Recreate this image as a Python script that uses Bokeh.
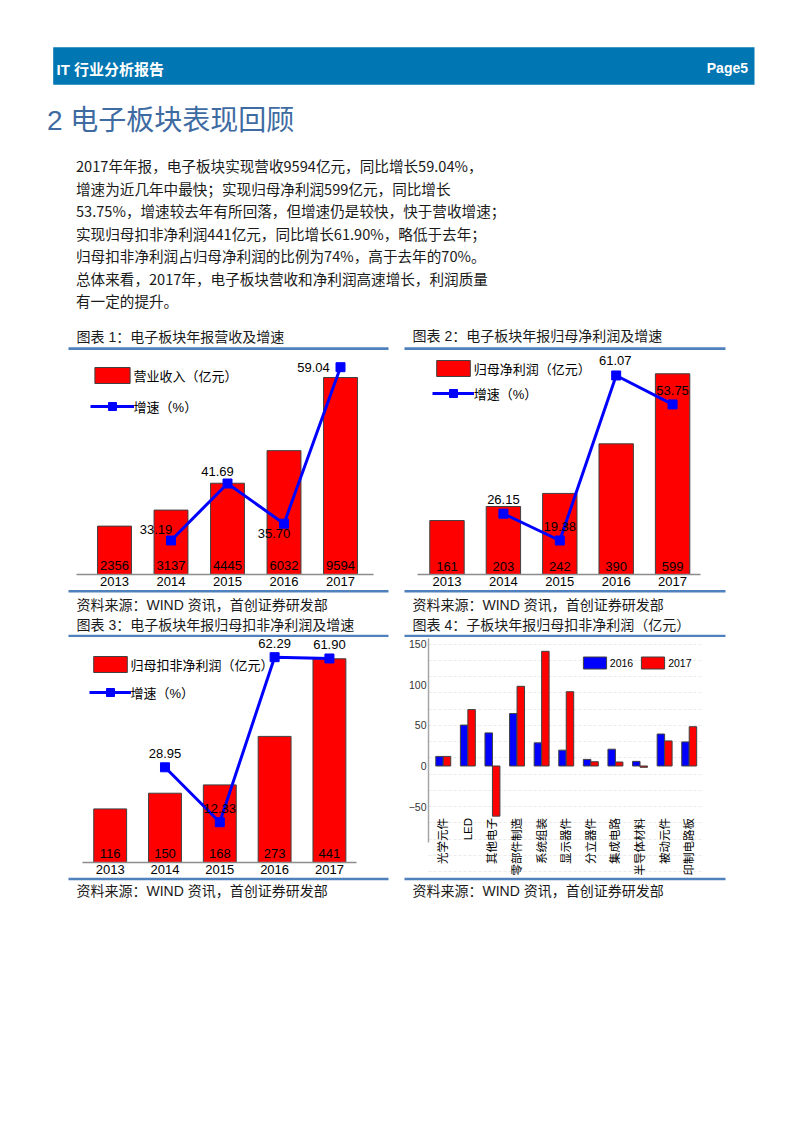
import math
from bokeh.plotting import figure
from bokeh.models import Range1d, FixedTicker, ColumnDataSource, Legend, LegendItem, Spacer
from bokeh.layouts import column, row
from bokeh.core.properties import value
from bokeh.transform import dodge
from bokeh.embed import file_html
from bokeh.resources import INLINE

# ---------------- data ----------------
years = ["2013", "2014", "2015", "2016", "2017"]
revenue = [2356, 3137, 4445, 6032, 9594]
revenue_growth = [33.19, 41.69, 35.70, 59.04]          # 2014-2017
net_profit = [161, 203, 242, 390, 599]
net_profit_growth = [26.15, 19.38, 61.07, 53.75]       # 2014-2017
core_profit = [116, 150, 168, 273, 441]
core_profit_growth = [28.95, 12.33, 62.29, 61.90]      # 2014-2017

sectors = ["光学元件", "LED", "其他电子", "零部件制造", "系统组装", "显示器件",
           "分立器件", "集成电路", "半导体材料", "被动元件", "印制电路板"]
sector_2016 = [11.8, 50.4, 40.8, 64.6, 28.5, 19.5, 8.1, 20.7, 5.7, 39.4, 29.7]
sector_2017 = [11.8, 69.5, -61.8, 98.2, 141.3, 91.5, 5.3, 4.9, -1.6, 30.9, 48.4]
sector_ticks = [-50, 0, 50, 100, 150]

paragraph = [
    "2017年年报，电子板块实现营收9594亿元，同比增长59.04%，",
    "增速为近几年中最快；实现归母净利润599亿元，同比增长",
    "53.75%，增速较去年有所回落，但增速仍是较快，快于营收增速；",
    "实现归母扣非净利润441亿元，同比增长61.90%，略低于去年；",
    "归母扣非净利润占归母净利润的比例为74%，高于去年的70%。",
    "总体来看，2017年，电子板块营收和净利润高速增长，利润质量",
    "有一定的提升。",
]
source_text = "资料来源：WIND 资讯，首创证券研发部"

# ---------------- styles ----------------
CJK = "Noto Sans CJK SC"
MIX = "Liberation Sans, Noto Sans CJK SC"
RED = "#FF0000"
BLUE = "#0000FF"
EDGE = "#404040"
RULE = "#4F81BD"
HEAD = "#0076B2"
TITLE = "#3E6BA2"
INK = "#1a1a1a"


def no_align(p):
    try:
        p.frame_align = False
    except Exception:
        pass


def strip(top, bottom):
    p = figure(width=777, height=bottom - top, x_range=Range1d(8, 785),
               y_range=Range1d(bottom, top), x_axis_type=None, y_axis_type=None,
               output_backend="svg", toolbar_location=None, min_border=0,
               outline_line_color=None)
    return p


def put(p, x, y, s, size, color=INK, font=MIX, align="left", style="normal"):
    p.text(x=[x], y=[y], text=[s], text_font=value(font), text_font_size=size,
           text_color=color, text_align=align, text_baseline="middle",
           text_font_style=style)


def rules(p, top, bottom):
    p.quad(left=[68, 404], right=[388, 725], top=[top, top], bottom=[bottom, bottom],
           fill_color=RULE, line_color=None)


# ---------------- strip A : header, title, paragraph ----------------
sa = strip(8, 350)
sa.quad(left=[52.7], right=[754], top=[46.7], bottom=[84.3], fill_color=HEAD, line_color=None)
put(sa, 56, 69.3, "IT 行业分析报告", "15px", color="white", style="bold")
put(sa, 747.5, 67, "Page5", "14px", color="white", align="right", style="bold")
put(sa, 46.5, 120, "2 电子板块表现回顾", "28px", color=TITLE)
for i, line in enumerate(paragraph):
    put(sa, 75.5, 165.3 + 22.53 * i, line, "14.6px", font=CJK)
put(sa, 76, 336, "图表 1：电子板块年报营收及增速", "14px")
put(sa, 412, 335, "图表 2：电子板块年报归母净利润及增速", "14px")
rules(sa, 346.8, 349.7)


# ---------------- combo charts ----------------
def combo(width, height, border_l, border_r, x_start, x_end, y_end, g_range,
          bars, growth, bar_name, bar_w, value_dy, label_offsets, legend_loc,
          glyph_w, leg_spacing, min_top=0):
    p = figure(width=width, height=height, x_range=Range1d(x_start, x_end),
               y_range=Range1d(0, y_end), y_axis_type=None,
               output_backend="svg", toolbar_location=None,
               min_border_left=border_l, min_border_right=border_r,
               min_border_top=min_top, min_border_bottom=15,
               outline_line_color=None)
    no_align(p)
    p.extra_y_ranges = {"g": Range1d(*g_range)}
    xs = list(range(len(years)))
    src = ColumnDataSource(dict(x=xs, v=bars, lab=[str(b) for b in bars]))
    br = p.vbar(x="x", top="v", width=bar_w, source=src, fill_color=RED,
                line_color=EDGE, line_width=1)
    p.text(x="x", y=0, text="lab", source=src, y_offset=value_dy,
           text_align="center", text_baseline="middle", text_font=value(MIX),
           text_font_size="13px", text_color="black")
    gsrc = ColumnDataSource(dict(x=xs[1:], g=growth,
                                 lab=[f"{v:.2f}" for v in growth],
                                 dx=[o[0] for o in label_offsets],
                                 dy=[o[1] for o in label_offsets]))
    lr = p.line(x="x", y="g", source=gsrc, y_range_name="g", line_color=BLUE, line_width=3)
    sr = p.scatter(x="x", y="g", source=gsrc, y_range_name="g", marker="square",
                   size=9, fill_color=BLUE, line_color=BLUE)
    p.text(x="x", y="g", text="lab", source=gsrc, y_range_name="g",
           x_offset="dx", y_offset="dy", text_align="center", text_baseline="middle",
           text_font=value(MIX), text_font_size="13px", text_color="black")
    ax = p.xaxis[0]
    ax.ticker = FixedTicker(ticks=xs)
    ax.major_label_overrides = {i: y for i, y in enumerate(years)}
    ax.major_tick_line_color = None
    ax.minor_tick_line_color = None
    ax.major_label_standoff = -4
    ax.axis_line_color = "#8c8c8c"
    ax.axis_line_width = 1.5
    ax.major_label_text_font = MIX
    ax.major_label_text_font_size = "13px"
    ax.major_label_text_color = "black"
    p.xgrid.visible = False
    leg = Legend(items=[LegendItem(label=bar_name, renderers=[br]),
                        LegendItem(label="增速（%）", renderers=[lr, sr])],
                 location=legend_loc, orientation="vertical",
                 glyph_width=glyph_w, glyph_height=20, label_height=20,
                 label_standoff=0, spacing=leg_spacing, padding=0, margin=0,
                 border_line_color=None, background_fill_alpha=0,
                 label_text_font=MIX, label_text_font_size="13px",
                 label_text_color="black")
    p.add_layout(leg)
    return p


p1 = combo(320, 239, 8, 15, -0.6726, 4.584, 10909, (28.12, 61.53),
           revenue, revenue_growth, "营业收入（亿元）", 0.6, -9.5,
           [(-15, -11), (-10, -12), (-10, 9.5), (-27, 0)],
           (13.6, 158), 44, 11)
p2 = combo(321, 239, 13, 25, -0.523, 4.495, 668.5, (10.79, 67.38),
           net_profit, net_profit_growth, "归母净利润（亿元）", 0.61, -8,
           [(0, -14.5), (0, -14), (-1, -14.5), (0, -13.5)],
           (14.8, 170.7), 42, 5)
p3 = combo(320, 240, 14, 32, -0.505, 4.494, 487.1, (0.13, 68.25),
           core_profit, core_profit_growth, "归母扣非净利润（亿元）", 0.6, -9.5,
           [(0, -13.5), (0, -14), (0, -14), (0, -14)],
           (6.5, 159.7), 42, 8)

# ---------------- chart 4 : sector bars ----------------
p4 = figure(width=321, height=240, x_range=Range1d(-0.6, 10.54),
            y_range=Range1d(-137.4, 157.1), x_axis_type=None,
            output_backend="svg", toolbar_location=None,
            min_border_left=24, min_border_right=23, min_border_top=1,
            min_border_bottom=0, outline_line_color=None)
no_align(p4)
s4 = ColumnDataSource(dict(x=list(range(len(sectors))), a=sector_2016, b=sector_2017,
                           name=sectors))
b16 = p4.vbar(x=dodge("x", -0.152, range=p4.x_range), top="a", bottom=0, width=0.304,
              source=s4, fill_color=BLUE, line_color=EDGE, line_width=1)
b17 = p4.vbar(x=dodge("x", 0.152, range=p4.x_range), top="b", bottom=0, width=0.304,
              source=s4, fill_color=RED, line_color=EDGE, line_width=1)
p4.text(x="x", y=-64, text="name", source=s4, angle=math.pi / 2, text_align="right",
        text_baseline="middle", text_font=value(MIX), text_font_size="11.5px",
        text_color="black")
ya = p4.yaxis[0]
ya.ticker = FixedTicker(ticks=sector_ticks)
ya.bounds = (-94, 157.1)
ya.axis_line_color = "#a6a6a6"
ya.axis_line_width = 1.5
ya.major_tick_line_color = None
ya.minor_tick_line_color = None
ya.major_tick_out = 0
ya.major_tick_in = 0
ya.minor_tick_out = 0
ya.minor_tick_in = 0
ya.major_label_standoff = 2
ya.major_label_text_font = "Liberation Sans"
ya.major_label_text_font_size = "10.5px"
ya.major_label_text_color = "#333333"
p4.ygrid.ticker = FixedTicker(ticks=list(range(-130, 151, 20)))
p4.ygrid.grid_line_color = "#ebebeb"
p4.ygrid.grid_line_dash = "3 2"
leg4 = Legend(items=[LegendItem(label="2016", renderers=[b16]),
                     LegendItem(label="2017", renderers=[b17])],
              location=(151.8, 207), orientation="horizontal",
              glyph_width=29, glyph_height=15, label_height=15, label_standoff=1,
              spacing=5, padding=0, margin=0, border_line_color=None,
              background_fill_alpha=0, label_text_font="Liberation Sans",
              label_text_font_size="10.5px", label_text_color="black")
p4.add_layout(leg4)

# ---------------- strip C and E ----------------
sc = strip(589, 637)
rules(sc, 589.4, 592.1)
put(sc, 76, 604, source_text, "14px")
put(sc, 412, 604, source_text, "14px")
put(sc, 76, 624, "图表 3：电子板块年报归母扣非净利润及增速", "14px")
put(sc, 412, 624, "图表 4：子板块年报归母扣非净利润（亿元）", "14px")
rules(sc, 634.3, 637)

se = strip(877, 922)
rules(se, 877, 879.7)
put(se, 76, 890, source_text, "14px")
put(se, 412, 890, source_text, "14px")

for f in (sa, sc, se):
    no_align(f)

page = column(
    sa,
    row(Spacer(width=60), p1, Spacer(width=16), p2),
    sc,
    row(Spacer(width=60), p3, Spacer(width=16), p4),
    se,
)
layout = column(Spacer(height=8), row(Spacer(width=8), page))

open("out.html", "w").write(file_html(layout, INLINE))
